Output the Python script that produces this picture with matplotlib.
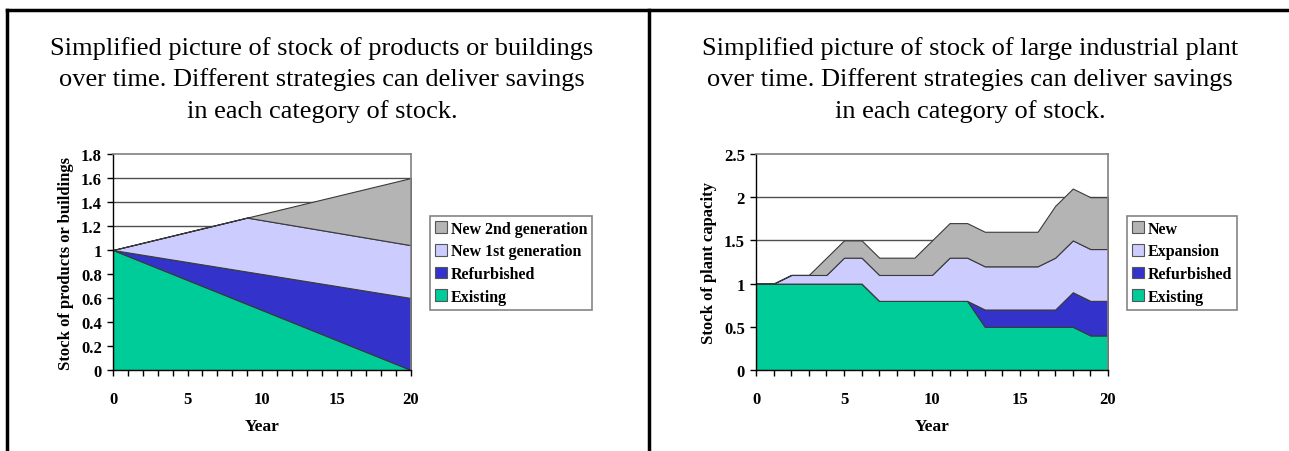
import matplotlib
matplotlib.use("Agg")
import matplotlib.pyplot as plt
from matplotlib.patches import Patch
from matplotlib.lines import Line2D
from matplotlib.ticker import MultipleLocator

plt.rcParams['font.family'] = ['Liberation Serif', 'DejaVu Serif']

# ---- Products / buildings stock (left panel) ----
years_a = [0, 9, 20]
existing_a = [1.00, 0.55, 0.00]
refurbished_a = [0.00, 0.27, 0.60]
new1_a = [0.00, 0.45, 0.44]
new2_a = [0.00, 0.00, 0.56]
labels_a = ["New 2nd generation", "New 1st generation", "Refurbished", "Existing"]
yticks_a = [0, 0.2, 0.4, 0.6, 0.8, 1, 1.2, 1.4, 1.6, 1.8]
title_a = ("Simplified picture of stock of products or buildings\n"
           "over time. Different strategies can deliver savings\n"
           "in each category of stock.")
ylabel_a = "Stock of products or buildings"

# ---- Large industrial plant stock (right panel) ----
years_b = list(range(21))
existing_b = [1, 1, 1, 1, 1, 1, 1, 0.8, 0.8, 0.8, 0.8, 0.8, 0.8, 0.5, 0.5, 0.5, 0.5, 0.5, 0.5, 0.4, 0.4]
refurbished_b = [0, 0, 0, 0, 0, 0, 0, 0, 0, 0, 0, 0, 0, 0.2, 0.2, 0.2, 0.2, 0.2, 0.4, 0.4, 0.4]
expansion_b = [0, 0, 0.1, 0.1, 0.1, 0.3, 0.3, 0.3, 0.3, 0.3, 0.3, 0.5, 0.5, 0.5, 0.5, 0.5, 0.5, 0.6, 0.6, 0.6, 0.6]
new_b = [0, 0, 0, 0, 0.2, 0.2, 0.2, 0.2, 0.2, 0.2, 0.4, 0.4, 0.4, 0.4, 0.4, 0.4, 0.4, 0.6, 0.6, 0.6, 0.6]
labels_b = ["New", "Expansion", "Refurbished", "Existing"]
yticks_b = [0, 0.5, 1, 1.5, 2, 2.5]
title_b = ("Simplified picture of stock of large industrial plant\n"
           "over time. Different strategies can deliver savings\n"
           "in each category of stock.")
ylabel_b = "Stock of plant capacity"

xticks = [0, 5, 10, 15, 20]
colors = ["#00CC99", "#3333CC", "#CCCCFF", "#B4B4B4"]  # existing, refurbished, 1st/expansion, new

W, H = 1289, 452
fig = plt.figure(figsize=(W / 100, H / 100), dpi=100)


def px_axes(x0, y0, x1, y1):
    return fig.add_axes([x0 / W, 1 - y1 / H, (x1 - x0) / W, (y1 - y0) / H])


def draw_panel(ax, years, layers, ymax, yticks, ylabel, legend_labels, legend_pos):
    ax.stackplot(years, *layers, colors=colors, edgecolor="#3a3a3a",
                 linewidth=0.8, zorder=2)
    for yv in yticks:
        if 0 < yv < ymax:
            ax.axhline(yv, color="#505050", lw=1.0, zorder=1)
    ax.set_xlim(0, 20)
    ax.set_ylim(0, ymax)
    ax.set_xticks(xticks)
    ax.xaxis.set_minor_locator(MultipleLocator(1))
    ax.set_yticks(yticks)
    ax.set_yticklabels([f"{v:g}" for v in yticks])
    ax.tick_params(axis="both", which="both", direction="out", color="black",
                   width=1, labelsize=12)
    ax.tick_params(axis="both", which="major", length=4)
    ax.tick_params(axis="x", which="minor", length=4)
    ax.tick_params(axis="x", pad=11)
    ax.tick_params(axis="y", pad=4)
    for lab in ax.get_xticklabels() + ax.get_yticklabels():
        lab.set_fontweight("bold")
    for side in ("top", "right"):
        ax.spines[side].set_color("#808080")
        ax.spines[side].set_linewidth(1.2)
    for side in ("left", "bottom"):
        ax.spines[side].set_color("black")
        ax.spines[side].set_linewidth(1.0)
    ax.set_xlabel("Year", fontsize=12.5, fontweight="bold", labelpad=8)
    ax.set_ylabel(ylabel, fontsize=12, fontweight="bold", labelpad=5)

    handles = [Patch(facecolor=c, edgecolor="#555555", lw=0.8)
               for c in reversed(colors)]
    leg = ax.legend(handles, legend_labels, loc="upper left",
                    bbox_to_anchor=legend_pos, bbox_transform=fig.transFigure,
                    frameon=True, fancybox=False, edgecolor="#666666",
                    handlelength=0.75, handleheight=0.75, handletextpad=0.25,
                    borderpad=0.3, labelspacing=0.42, borderaxespad=0,
                    prop={"weight": "bold", "size": 11.5})
    leg.get_frame().set_linewidth(1.2)


ax_a = px_axes(113, 155, 411, 371)
draw_panel(ax_a, years_a, [existing_a, refurbished_a, new1_a, new2_a],
           1.8, yticks_a, ylabel_a, labels_a, (430 / W, 1 - 217 / H))

ax_b = px_axes(756, 155, 1108, 371)
draw_panel(ax_b, years_b, [existing_b, refurbished_b, expansion_b, new_b],
           2.5, yticks_b, ylabel_b, labels_b, (1127 / W, 1 - 217 / H))

fig.text(322 / W, 1 - 80 / H, title_a, ha="center", va="center",
         fontsize=19, linespacing=1.45)
fig.text(970 / W, 1 - 80 / H, title_b, ha="center", va="center",
         fontsize=19, linespacing=1.45)

# table-like frame around the two panels
frame_kw = dict(color="black", lw=2.5, transform=fig.transFigure, clip_on=False)
fig.add_artist(Line2D([7 / W, 1], [1 - 11 / H, 1 - 11 / H], **frame_kw))
fig.add_artist(Line2D([7 / W, 7 / W], [0, 1 - 11 / H], **frame_kw))
fig.add_artist(Line2D([649 / W, 649 / W], [0, 1 - 11 / H], **frame_kw))

fig.savefig("out.png", dpi=100)
